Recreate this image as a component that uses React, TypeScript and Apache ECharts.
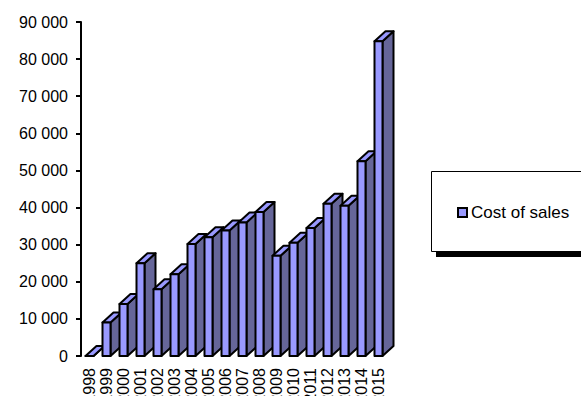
import React, { useEffect, useRef } from "react";
import * as echarts from "echarts";

const years = ["1998","1999","2000","2001","2002","2003","2004","2005","2006","2007","2008","2009","2010","2011","2012","2013","2014","2015"];
const costOfSales = [0,9000,14000,25000,18000,22000,30200,32000,33800,36000,38800,27000,30500,34500,41000,40500,52500,84800];
const seriesName = "Cost of sales";
const FRONT = "#9999ff";
const SIDE = "#666699";
const FONT = "'Liberation Sans', Arial, sans-serif";

export default function App() {
  const ref = useRef<HTMLDivElement>(null);
  useEffect(() => {
    const chart = echarts.init(ref.current!, undefined, { renderer: "svg" });
    chart.setOption({
      animation: false,
      backgroundColor: "#ffffff",
      grid: { left: 81, top: 22, width: 306, height: 334, containLabel: false, outerBoundsMode: "none" },
      xAxis: {
        type: "category",
        data: years,
        axisLine: { show: false },
        axisTick: { show: false },
        axisLabel: { rotate: 90, interval: 0, margin: 12, color: "#000", fontFamily: FONT, fontSize: 16, verticalAlign: "middle" },
      },
      yAxis: {
        type: "value",
        min: 0,
        max: 90000,
        interval: 10000,
        splitLine: { show: false },
        axisLine: { show: true, lineStyle: { color: "#000", width: 2 } },
        axisTick: { show: true, length: 5, lineStyle: { color: "#000", width: 2 } },
        axisLabel: {
          margin: 13,
          color: "#000",
          fontFamily: FONT,
          fontSize: 16,
          formatter: (v: number) => String(v).replace(/\B(?=(\d{3})+$)/g, " "),
        },
      },
      legend: {
        data: [seriesName],
        left: 457,
        top: 204,
        icon: "rect",
        itemWidth: 9,
        itemHeight: 9,
        itemGap: 0,
        padding: 0,
        itemStyle: { color: FRONT, borderColor: "#000", borderWidth: 2 },
        textStyle: { color: "#000", fontFamily: FONT, fontSize: 17, padding: [0, 0, 0, -1] },
      },
      graphic: [
        { type: "rect", z: -1, shape: { x: 436, y: 176, width: 150, height: 81 }, style: { fill: "#000" } },
        { type: "rect", z: 0, shape: { x: 431.5, y: 171.5, width: 160, height: 80 }, style: { fill: "#fff", stroke: "#000", lineWidth: 1 } },
      ],
      series: [
        {
          type: "custom",
          name: seriesName,
          clip: false,
          itemStyle: { color: FRONT, borderColor: "#000", borderWidth: 2 },
          data: costOfSales.map((v, i) => [i, v]),
          encode: { x: 0, y: 1 },
          renderItem: (_p: any, api: any) => {
            const [cx, top] = api.coord([api.value(0), api.value(1)]);
            const [, base] = api.coord([api.value(0), 0]);
            const l = cx - 4;
            const r = cx + 4;
            const dx = 11;
            const dy = 10;
            const stroke = { stroke: "#000", lineWidth: 2, lineJoin: "round" };
            return {
              type: "group",
              children: [
                { type: "polygon", shape: { points: [[r, base], [r + dx, base - dy], [r + dx, top - dy], [r, top]] }, style: { fill: SIDE, ...stroke } },
                { type: "polygon", shape: { points: [[l, top], [l + dx, top - dy], [r + dx, top - dy], [r, top]] }, style: { fill: FRONT, ...stroke } },
                { type: "polygon", shape: { points: [[l, base], [l, top], [r, top], [r, base]] }, style: { fill: FRONT, ...stroke } },
              ],
            };
          },
        },
      ],
    });
    return () => chart.dispose();
  }, []);
  return <div ref={ref} style={{ position: "fixed", left: 0, top: 0, width: 581, height: 396 }} />;
}
